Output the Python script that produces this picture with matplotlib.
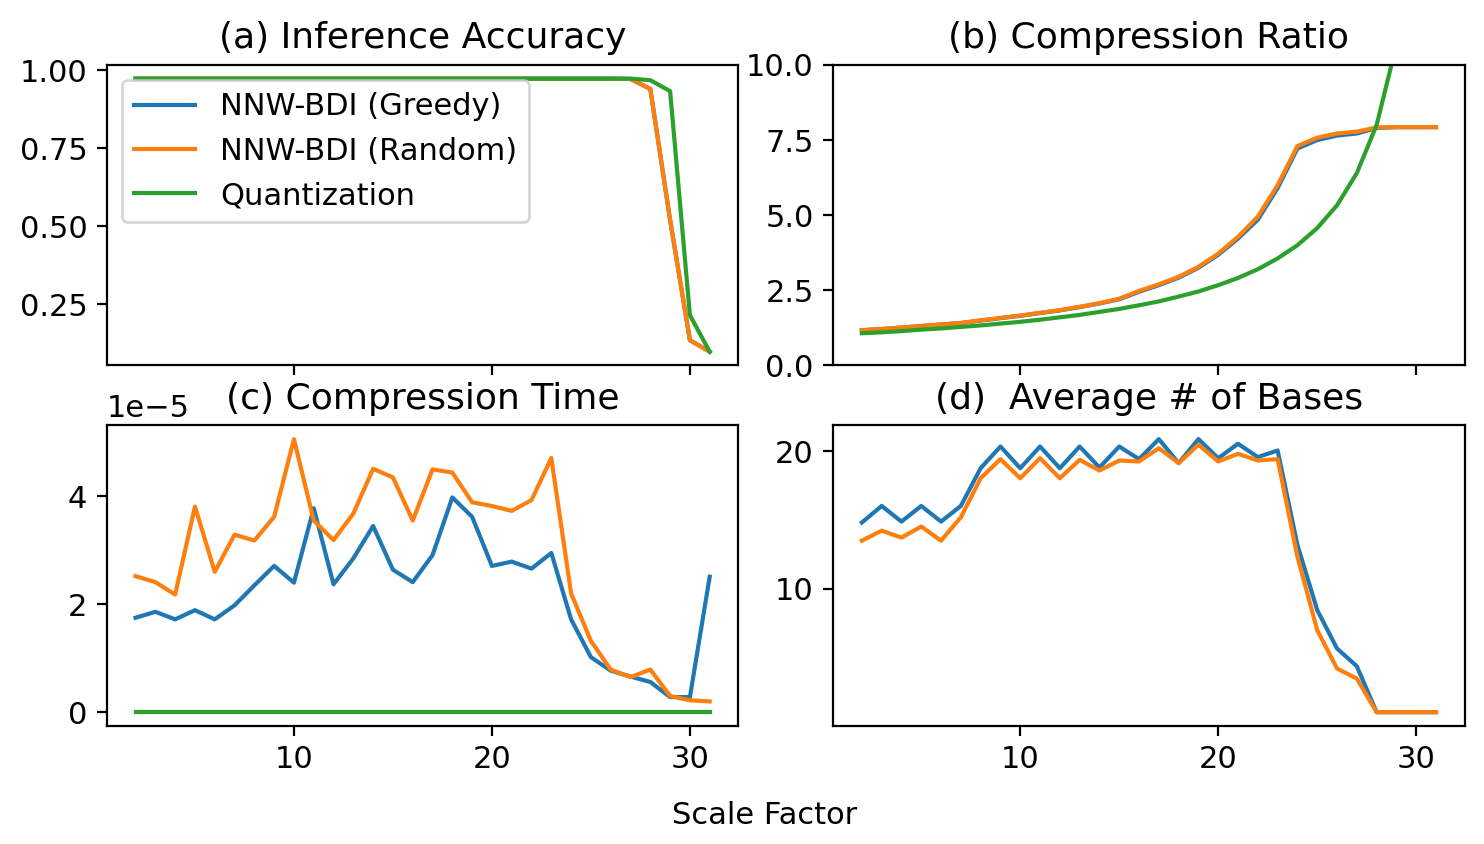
import matplotlib
matplotlib.use("Agg")
import matplotlib.pyplot as plt
from matplotlib.ticker import ScalarFormatter

scale = list(range(2, 32))

acc_greedy = [0.973] * 25 + [0.972, 0.94, 0.52, 0.135, 0.098]
acc_random = [0.973] * 25 + [0.972, 0.94, 0.52, 0.135, 0.098]
acc_quant = [0.973] * 26 + [0.968, 0.933, 0.215, 0.098]

ratio_greedy = [1.17, 1.21, 1.26, 1.31, 1.36, 1.41, 1.49, 1.57, 1.65, 1.74, 1.83, 1.94, 2.06,
                2.20, 2.45, 2.67, 2.92, 3.25, 3.68, 4.22, 4.85, 5.90, 7.22, 7.50, 7.65, 7.72,
                7.90, 7.93, 7.93, 7.93]
ratio_random = [1.17, 1.21, 1.26, 1.31, 1.36, 1.41, 1.50, 1.58, 1.66, 1.75, 1.84, 1.95, 2.07,
                2.22, 2.48, 2.70, 2.95, 3.28, 3.72, 4.28, 4.95, 6.00, 7.30, 7.58, 7.72, 7.78,
                7.92, 7.93, 7.93, 7.93]
ratio_quant = [1.07, 1.10, 1.14, 1.19, 1.23, 1.28, 1.33, 1.39, 1.45, 1.52, 1.60, 1.68, 1.78,
               1.88, 2.00, 2.13, 2.29, 2.46, 2.67, 2.91, 3.20, 3.56, 4.00, 4.57, 5.33, 6.40,
               8.00, 10.67, 16.0, 32.0]

time_greedy = [1.75, 1.86, 1.72, 1.89, 1.72, 1.98, 2.35, 2.71, 2.40, 3.78, 2.37, 2.85, 3.45,
               2.64, 2.41, 2.91, 3.98, 3.62, 2.71, 2.79, 2.66, 2.95, 1.72, 1.02, 0.77, 0.66,
               0.56, 0.28, 0.28, 2.51]
time_random = [2.52, 2.41, 2.18, 3.81, 2.60, 3.29, 3.18, 3.62, 5.06, 3.55, 3.19, 3.68, 4.51,
               4.35, 3.55, 4.50, 4.44, 3.89, 3.82, 3.73, 3.93, 4.71, 2.20, 1.32, 0.79, 0.65,
               0.79, 0.30, 0.22, 0.20]
time_quant = [0.0] * 30
time_unit = 1e-5

bases_greedy = [14.82, 16.03, 14.89, 16.03, 14.89, 16.03, 18.78, 20.36, 18.78, 20.36, 18.78,
                20.36, 18.83, 20.36, 19.44, 20.90, 19.15, 20.90, 19.51, 20.56, 19.59, 20.07,
                13.19, 8.44, 5.64, 4.35, 1.0, 1.0, 1.0, 1.0]
bases_random = [13.50, 14.23, 13.72, 14.53, 13.50, 15.20, 18.05, 19.44, 18.05, 19.51, 18.05,
                19.39, 18.61, 19.34, 19.27, 20.24, 19.15, 20.49, 19.27, 19.83, 19.34, 19.44,
                12.34, 6.98, 4.18, 3.45, 1.0, 1.0, 1.0, 1.0]

labels = ["NNW-BDI (Greedy)", "NNW-BDI (Random)", "Quantization"]
titles = ["(a) Inference Accuracy", "(b) Compression Ratio",
          "(c) Compression Time", "(d)  Average # of Bases"]

plt.rcParams["font.family"] = ["DejaVu Sans"]
plt.rcParams["font.size"] = 11

fig, axes = plt.subplots(2, 2, sharex=True, figsize=(7.42, 4.22), dpi=200)
fig.subplots_adjust(left=0.072, right=0.987, top=0.923, bottom=0.14, wspace=0.15, hspace=0.2)
ax_a, ax_b, ax_c, ax_d = axes.flatten()

ax_a.plot(scale, acc_greedy, label=labels[0])
ax_a.plot(scale, acc_random, label=labels[1])
ax_a.plot(scale, acc_quant, label=labels[2])
ax_a.legend(loc="upper left", fontsize=11)
ax_a.set_yticks([0.25, 0.5, 0.75, 1.0])

ax_b.plot(scale, ratio_greedy)
ax_b.plot(scale, ratio_random)
ax_b.plot(scale, ratio_quant)
ax_b.set_ylim(0, 10)

ax_c.plot(scale, [v * time_unit for v in time_greedy])
ax_c.plot(scale, [v * time_unit for v in time_random])
ax_c.plot(scale, [v * time_unit for v in time_quant])
ax_c.set_yticks([0, 2e-5, 4e-5])
fmt = ScalarFormatter(useMathText=False)
fmt.set_powerlimits((-3, 3))
ax_c.yaxis.set_major_formatter(fmt)

ax_d.plot(scale, bases_greedy)
ax_d.plot(scale, bases_random)
ax_d.set_yticks([10, 20])

for ax, t in zip(axes.flatten(), titles):
    ax.set_title(t, fontsize=13)
    ax.tick_params(labelsize=11)
ax_c.set_xticks([10, 20, 30])

fig.text(0.5155, 0.034, "Scale Factor", ha="center", va="center", fontsize=11)

fig.savefig("out.png", dpi=200)
